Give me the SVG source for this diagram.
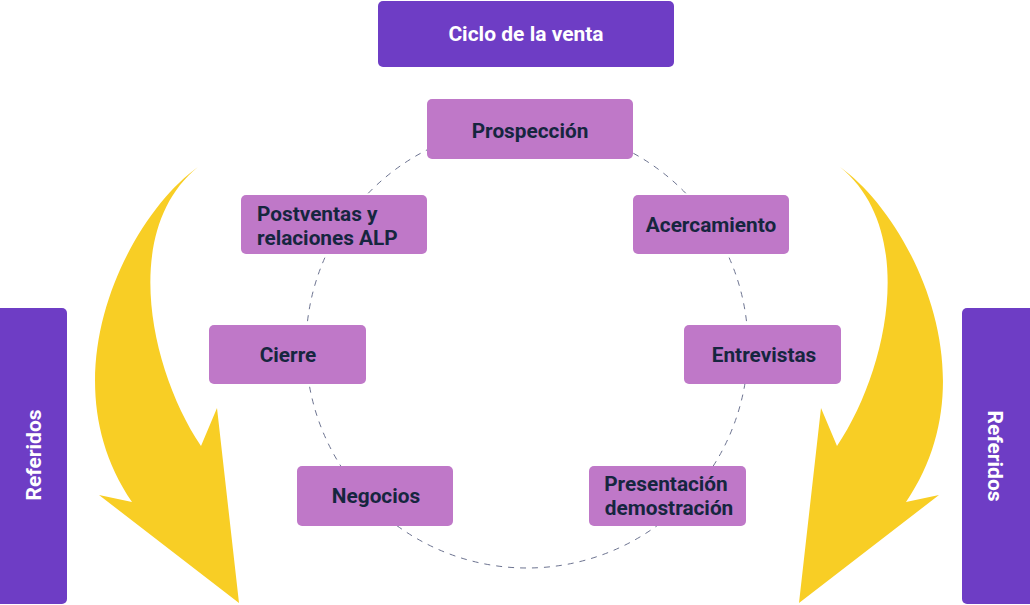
<svg xmlns="http://www.w3.org/2000/svg" xmlns:xlink="http://www.w3.org/1999/xlink" width="1030" height="605" viewBox="0 0 1030 605">
<style>
.step{fill:#bf78c8;}
.head{fill:#6e3dc5;}
.lbl{font-family:Roboto,"Liberation Sans",sans-serif;font-weight:700;font-size:20.8px;fill:#16263f;text-anchor:middle;dominant-baseline:central;}
.wlbl{font-family:Roboto,"Liberation Sans",sans-serif;font-weight:700;font-size:21px;fill:#ffffff;text-anchor:middle;dominant-baseline:central;}
.arrow{fill:#f8ce25;}
</style>
<defs>
<path id="bigArrow" class="arrow" d="M198,167 C130,215 45,375 132,502 L99,495 L239,603 L217,408 L201,446 C150,370 120,230 198,167 Z"/>
</defs>
<rect width="1030" height="605" fill="#ffffff"/>
<g id="connectors">
<circle cx="527" cy="347" r="221" fill="none" stroke="#6c7390" stroke-width="1" stroke-dasharray="6,6"/>
<use xlink:href="#bigArrow" href="#bigArrow"/>
<use xlink:href="#bigArrow" href="#bigArrow" transform="translate(1038,0) scale(-1,1)"/>
</g>
<g id="title">
<rect class="head" x="378" y="1" width="296" height="66" rx="5"/>
<text class="wlbl" x="526" y="34">Ciclo de la venta</text>
</g>
<g id="referidos-left">
<rect class="head" x="-6" y="308" width="73" height="296" rx="5"/>
<text class="wlbl" transform="translate(34,455) rotate(-90)" x="0" y="0">Referidos</text>
</g>
<g id="referidos-right">
<rect class="head" x="962" y="308" width="74" height="296" rx="5"/>
<text class="wlbl" transform="translate(995,456) rotate(90)" x="0" y="0">Referidos</text>
</g>
<g id="prospeccion">
<rect class="step" x="427" y="99" width="206" height="60" rx="5"/>
<text class="lbl" x="530" y="131">Prospección</text>
</g>
<g id="acercamiento">
<rect class="step" x="633" y="195" width="156" height="59" rx="5"/>
<text class="lbl" x="711" y="225">Acercamiento</text>
</g>
<g id="entrevistas">
<rect class="step" x="684" y="325" width="157" height="59" rx="5"/>
<text class="lbl" x="764" y="355">Entrevistas</text>
</g>
<g id="presentacion">
<rect class="step" x="589" y="466" width="157" height="60" rx="5"/>
<text class="lbl" x="666" y="484">Presentación</text>
<text class="lbl" x="669" y="508">demostración</text>
</g>
<g id="negocios">
<rect class="step" x="297" y="466" width="156" height="60" rx="5"/>
<text class="lbl" x="376" y="496">Negocios</text>
</g>
<g id="cierre">
<rect class="step" x="209" y="325" width="157" height="59" rx="5"/>
<text class="lbl" x="288" y="355">Cierre</text>
</g>
<g id="postventas">
<rect class="step" x="241" y="195" width="186" height="59" rx="5"/>
<text class="lbl" x="257" y="214" style="text-anchor:start">Postventas y</text>
<text class="lbl" x="257" y="238" style="text-anchor:start">relaciones ALP</text>
</g>
</svg>
